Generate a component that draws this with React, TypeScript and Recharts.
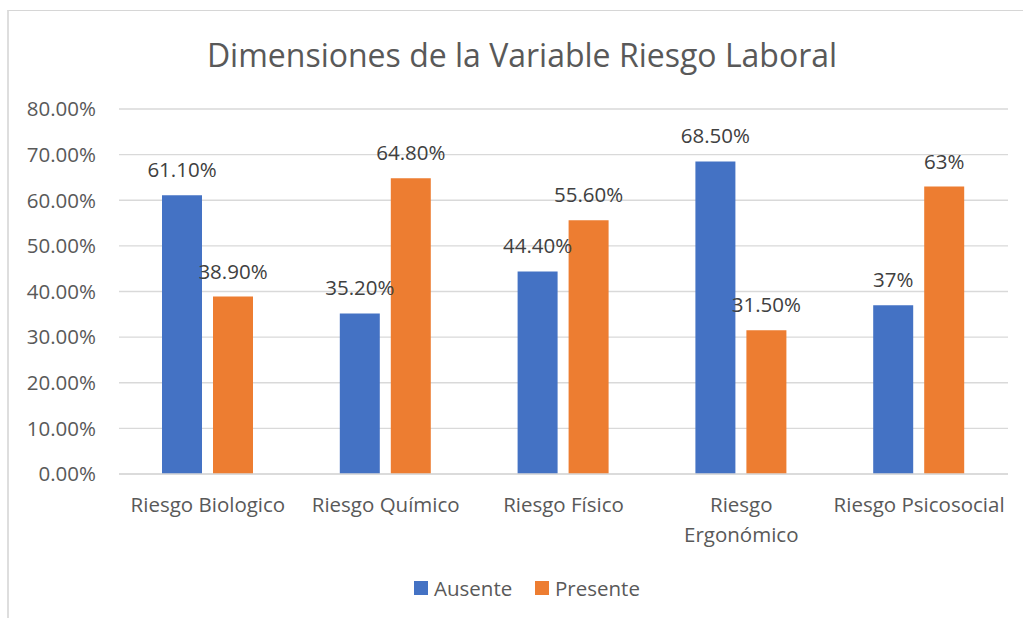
import React from "react";
import { BarChart, Bar, XAxis, YAxis, CartesianGrid, Legend, LabelList } from "recharts";

const categories = ["Riesgo Biologico", "Riesgo Químico", "Riesgo Físico", "Riesgo Ergonómico", "Riesgo Psicosocial"];
const tickLines = [["Riesgo Biologico"], ["Riesgo Químico"], ["Riesgo Físico"], ["Riesgo", "Ergonómico"], ["Riesgo Psicosocial"]];
const ausente = [61.1, 35.2, 44.4, 68.5, 37];
const presente = [38.9, 64.8, 55.6, 31.5, 63];
const ausenteLabels = ["61.10%", "35.20%", "44.40%", "68.50%", "37%"];
const presenteLabels = ["38.90%", "64.80%", "55.60%", "31.50%", "63%"];
const yTicks = [0, 10, 20, 30, 40, 50, 60, 70, 80];
const seriesNames = ["Ausente", "Presente"];
const title = "Dimensiones de la Variable Riesgo Laboral";

const data = categories.map((c, i) => ({
  name: c,
  ausente: ausente[i],
  presente: presente[i],
  ausenteLabel: ausenteLabels[i],
  presenteLabel: presenteLabels[i],
}));

const FONT = "'Open Sans', sans-serif";
const FS = 20.5;
const BLUE = "#4472C4";
const ORANGE = "#ED7D31";
const GRAY = "#595959";

const XTick = (props: any) => {
  const { x, y, payload } = props;
  const idx = categories.indexOf(payload.value);
  const lines = idx >= 0 ? tickLines[idx] : [payload.value];
  return (
    <g>
      {lines.map((l: string, i: number) => (
        <text key={i} x={x} y={y + 38 + i * 30} textAnchor="middle" fill={GRAY} fontSize={FS} fontFamily={FONT}>
          {l}
        </text>
      ))}
    </g>
  );
};

const LegendContent = () => {
  const colors = [BLUE, ORANGE];
  return (
    <div style={{ position: "relative", width: 1023, height: 40 }}>
      {seriesNames.map((n, i) => (
        <div
          key={n}
          style={{
            position: "absolute",
            left: i === 0 ? 414 : 535,
            top: 0,
            display: "flex",
            alignItems: "center",
            fontFamily: FONT,
            fontSize: FS,
            color: GRAY,
            lineHeight: "24px",
          }}
        >
          <span style={{ display: "inline-block", width: 14, height: 14, background: colors[i], marginRight: 6 }} />
          <span>{n}</span>
        </div>
      ))}
    </div>
  );
};

export default function App() {
  return (
    <div style={{ position: "fixed", left: 0, top: 0, width: 1023, height: 618, overflow: "hidden", background: "#fff" }}>
      <div
        style={{
          position: "absolute",
          left: 7,
          top: 10,
          width: 1100,
          height: 700,
          borderTop: "1px solid #d6d6d6",
          borderLeft: "2px solid #dedede",
        }}
      />
      <svg style={{ position: "absolute", left: 0, top: 0 }} width={1023} height={100}>
        <text x={522} y={67} textAnchor="middle" fill={GRAY} fontSize={32} fontFamily={FONT}>
          {title}
        </text>
      </svg>
      <div style={{ position: "absolute", left: 0, top: 0 }}>
        <BarChart
          width={1023}
          height={618}
          data={data}
          margin={{ top: 109, right: 15, left: 19, bottom: 64 }}
          barSize={40}
          barGap={11}
        >
          <CartesianGrid vertical={false} stroke="#d9d9d9" strokeWidth={1.3} />
          <XAxis
            dataKey="name"
            height={80}
            tickLine={false}
            tickSize={0}
            tickMargin={0}
            axisLine={{ stroke: "#d9d9d9", strokeWidth: 1.3 }}
            tick={<XTick />}
            interval={0}
          />
          <YAxis
            width={100}
            domain={[0, 80]}
            ticks={yTicks}
            axisLine={false}
            tickLine={false}
            tickSize={0}
            tickMargin={23}
            tickFormatter={(v: number) => v.toFixed(2) + "%"}
            tick={{ fill: GRAY, fontSize: FS, fontFamily: FONT }}
          />
          <Legend
            layout="horizontal"
            verticalAlign="middle"
            align="center"
            wrapperStyle={{ position: "absolute", top: 576, left: 0, width: 1023 }}
            content={<LegendContent />}
          />
          <Bar dataKey="ausente" name="Ausente" fill={BLUE} isAnimationActive={false}>
            <LabelList dataKey="ausenteLabel" position="top" offset={18} fill="#404040" fontSize={FS} fontFamily={FONT} />
          </Bar>
          <Bar dataKey="presente" name="Presente" fill={ORANGE} isAnimationActive={false}>
            <LabelList dataKey="presenteLabel" position="top" offset={18} fill="#404040" fontSize={FS} fontFamily={FONT} />
          </Bar>
        </BarChart>
      </div>
    </div>
  );
}
